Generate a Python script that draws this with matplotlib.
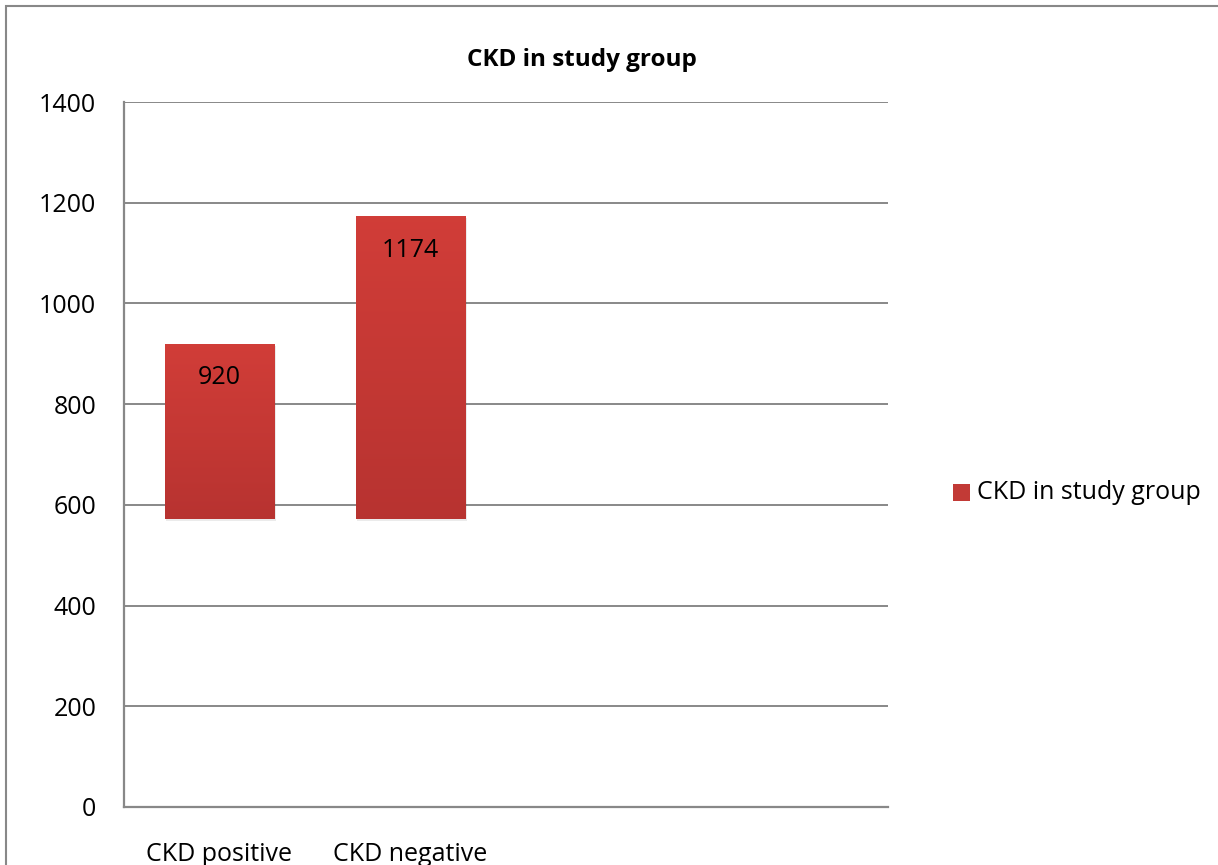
import matplotlib
matplotlib.use("Agg")
import matplotlib.pyplot as plt
from matplotlib.patches import Rectangle
import numpy as np

categories = ["CKD positive", "CKD negative"]
values = [920, 1174]
bar_base = 572
series_name = "CKD in study group"
title = "CKD in study group"
yticks = [0, 200, 400, 600, 800, 1000, 1200, 1400]

W, H = 1218, 865
fig = plt.figure(figsize=(W / 100, H / 100), dpi=100)
plt.rcParams['font.family'] = ['Open Sans', 'DejaVu Sans']
FS = 18

# chart frame (top and left edges visible)
fig.patches.append(Rectangle((6 / W, -0.1), 1.2, 1 - 6 / H + 0.1, transform=fig.transFigure,
                             fill=False, edgecolor="#888888", linewidth=1.5))

ax = fig.add_axes([124 / W, (H - 807) / H, (888 - 124) / W, (807 - 102) / H])
ax.set_xlim(-0.5, 3.5)
ax.set_ylim(0, 1400)
ax.set_yticks(yticks)
ax.set_yticklabels([str(v) for v in yticks], fontsize=FS)
ax.set_xticks(range(len(categories)))
ax.set_xticklabels(categories, fontsize=FS)
ax.tick_params(axis="both", length=0)
ax.tick_params(axis="y", pad=20)
ax.tick_params(axis="x", pad=25)
for s in ["top", "right"]:
    ax.spines[s].set_visible(False)
for s in ["left", "bottom"]:
    ax.spines[s].set_color("#888888")
    ax.spines[s].set_linewidth(1.6)
ax.yaxis.grid(True, color="#888888", linewidth=1.4)
ax.set_axisbelow(True)

# vertical colour gradient used to fill the bars
grad = np.linspace(0, 1, 256).reshape(-1, 1)
top_c = np.array([0.82, 0.24, 0.22])
bot_c = np.array([0.72, 0.20, 0.19])
img = (top_c * (1 - grad[..., None]) + bot_c * grad[..., None]).reshape(256, 1, 3)

width = 0.575
bars = ax.bar(range(len(values)), [v - bar_base for v in values], bottom=bar_base,
              width=width, color="#C83C38", label=series_name, zorder=2)
for b in bars:
    x0, y0 = b.get_x(), b.get_y()
    # soft shadow
    ax.add_patch(Rectangle((x0 + 0.01, y0 - 5), b.get_width(), b.get_height(),
                           facecolor="#000000", alpha=0.08, zorder=1.5, linewidth=0))
    im = ax.imshow(img, extent=[x0, x0 + b.get_width(), y0, y0 + b.get_height()],
                   aspect="auto", zorder=2.5, origin="upper")
    im.set_clip_path(b)

for i, v in enumerate(values):
    ax.text(i, v - 68, str(v), ha="center", va="center", fontsize=FS, color="black", zorder=3)

fig.text(582 / W, 1 - 60 / H, title, ha="center", va="center", fontsize=17.5, fontweight="bold")

# legend
fig.patches.append(Rectangle((953 / W, 1 - 501 / H), 17 / W, 17 / H, transform=fig.transFigure,
                             facecolor="#C23A36", edgecolor="none"))
fig.text(977 / W, 1 - 492 / H, series_name, ha="left", va="center", fontsize=FS)

fig.savefig("out.png", dpi=100)
